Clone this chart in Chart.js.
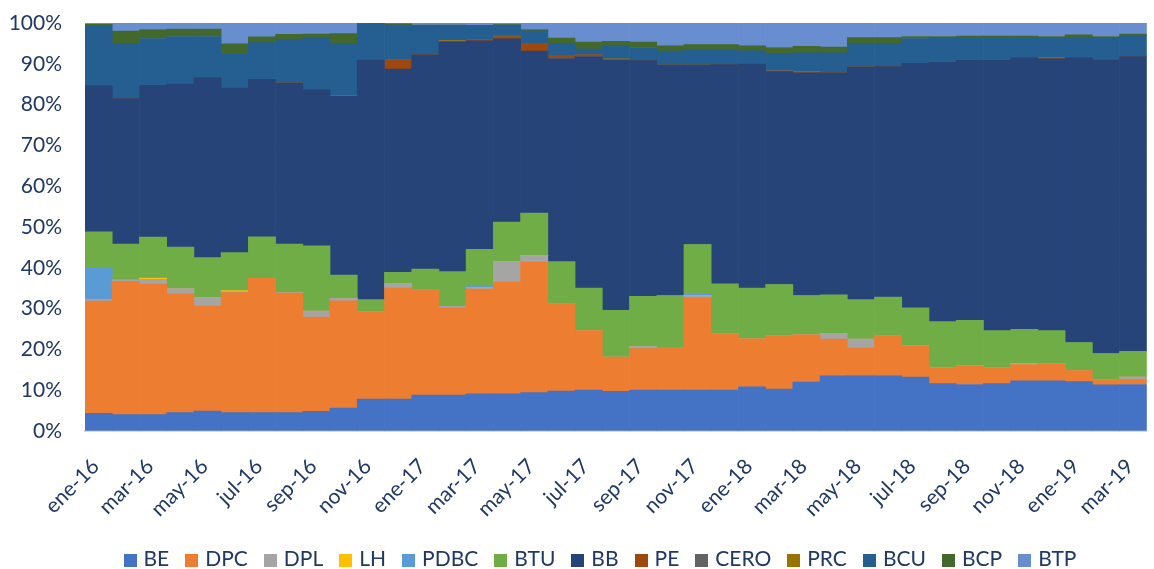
<!DOCTYPE html>
<html>
<head>
<meta charset="utf-8">
<script src="https://cdn.jsdelivr.net/npm/chart.js@4"></script>
<style>
  html, body { margin: 0; padding: 0; background: #fff; overflow: hidden; }
  #wrap { position: relative; width: 1154px; height: 569px; overflow: hidden; }
  #chart { position: absolute; left: 0; top: 0; }
  #legend {
    position: absolute; left: 0; top: 546px; width: 1200px;
    display: flex; justify-content: center; gap: 16px;
    font: 21px Lato, "Open Sans", sans-serif; line-height: 24px; color: #1F3864;
  }
  #legend span.sw { display: inline-block; width: 13px; height: 13px; margin-right: 7px; vertical-align: -1px; }
</style>
</head>
<body>
<div id="wrap">
  <canvas id="chart" width="1166" height="569"></canvas>
  <div id="legend"></div>
</div>
<script>
// meses (ene-16 .. mar-19)
const months = [
  "ene-16","feb-16","mar-16","abr-16","may-16","jun-16","jul-16","ago-16","sep-16","oct-16","nov-16","dic-16",
  "ene-17","feb-17","mar-17","abr-17","may-17","jun-17","jul-17","ago-17","sep-17","oct-17","nov-17","dic-17",
  "ene-18","feb-18","mar-18","abr-18","may-18","jun-18","jul-18","ago-18","sep-18","oct-18","nov-18","dic-18",
  "ene-19","feb-19","mar-19"
];

// participación (%) por instrumento
const BE   = [4.3,4.0,4.0,4.5,4.9,4.5,4.5,4.5,4.8,5.6,7.8,7.8,8.8,8.8,9.1,9.1,9.4,9.8,10.0,9.7,10.0,10.0,10.0,10.0,10.8,10.3,12.0,13.5,13.6,13.5,13.2,11.6,11.4,11.6,12.3,12.3,12.1,11.3,11.4];
const DPC  = [27.5,32.7,32.0,29.2,25.7,29.4,32.9,29.3,23.1,26.3,21.5,27.2,25.9,21.4,25.7,27.4,32.0,21.4,14.6,8.4,10.2,10.5,22.7,13.9,11.8,13.1,11.6,9.0,6.7,9.9,7.7,3.9,4.6,3.8,4.0,4.2,2.7,1.3,1.2];
const DPL  = [0.2,0.2,1.2,1.2,2.1,0.3,0,0.1,1.5,0.6,0,1.2,0,0.4,0.3,5.0,1.6,0,0,0,0.5,0,0.5,0,0,0,0,1.3,2.2,0,0,0,0,0,0.2,0,0,0,0.6];
const LH   = [0.1,0.1,0.3,0,0,0.2,0,0,0,0,0,0,0,0,0,0,0,0,0,0,0,0,0,0,0,0,0,0,0,0,0,0,0,0,0,0,0,0,0];
const PDBC = [7.7,0,0,0,0,0,0,0,0,0,0,0,0,0,0.4,0,0,0,0,0,0,0,0.3,0,0,0,0,0,0,0,0,0,0,0,0,0,0,0,0];
const BTU  = [8.9,8.8,10.0,10.2,9.8,9.3,10.2,11.9,16.0,5.7,2.9,2.7,5.0,8.5,9.0,9.7,10.4,10.3,10.4,11.5,12.3,12.7,12.2,12.2,12.4,12.5,9.6,9.6,9.7,9.4,9.3,11.3,11.1,9.2,8.4,8.1,6.9,6.4,6.3];
const BB   = [35.8,35.7,37.2,40.0,44.1,40.4,38.6,39.5,38.3,43.8,58.8,49.8,52.5,56.4,51.1,44.9,39.7,49.8,56.8,61.3,57.8,56.5,44.0,53.7,55.0,52.2,54.6,54.4,57.0,56.5,59.9,63.6,63.8,66.3,66.6,66.6,69.8,72.0,72.3];
const PE   = [0,0,0,0,0,0,0,0,0,0,0,2.3,0,0,0.3,0.5,1.9,0.6,0.4,0,0,0,0,0,0,0,0,0,0,0,0,0,0,0,0,0,0,0,0];
const CERO = [0,0,0,0,0,0,0,0,0,0.3,0,0,0,0,0,0,0,0,0,0,0,0,0,0,0,0.3,0,0,0,0,0,0,0,0,0,0,0,0,0];
const PRC  = [0,0,0,0,0,0,0,0,0,0,0,0,0,0.3,0,0.2,0,0,0,0.3,0,0,0,0,0,0,0.3,0,0,0,0,0,0,0,0,0.3,0,0,0];
const BCU  = [14.6,13.5,11.5,11.6,10.1,8.2,9.0,10.7,12.7,12.7,8.7,8.5,7.2,3.7,3.5,2.7,3.0,3.1,1.4,3.2,3.2,3.4,3.6,3.5,3.2,4.1,4.6,4.9,5.8,5.7,6.1,6.0,5.6,5.6,5.0,5.0,5.0,5.4,5.1];
const BCP  = [0.4,3.0,2.2,1.8,1.8,2.6,1.4,1.2,0.9,2.4,0.3,0.3,0.1,0.1,0,0.1,0.4,1.3,1.7,1.1,1.3,1.3,1.4,1.4,1.2,1.5,1.6,1.4,1.4,1.4,0.5,0.3,0.3,0.3,0.3,0.2,0.6,0.3,0.4];
const BTP  = [0.3,2.0,1.6,1.5,1.5,5.1,3.4,2.8,2.7,2.6,0,0.2,0.5,0.5,0.6,0.4,1.6,3.7,4.7,4.5,4.7,5.6,5.3,5.3,5.6,6.0,5.7,5.9,3.6,3.6,3.3,3.3,3.2,3.2,3.2,3.3,2.9,3.3,2.7];

const series = [
  ["BE", BE, "#4472C4"], ["DPC", DPC, "#ED7D31"], ["DPL", DPL, "#A5A5A5"], ["LH", LH, "#FFC000"],
  ["PDBC", PDBC, "#5B9BD5"], ["BTU", BTU, "#70AD47"], ["BB", BB, "#264478"], ["PE", PE, "#9E480E"],
  ["CERO", CERO, "#636363"], ["PRC", PRC, "#997300"], ["BCU", BCU, "#255E91"], ["BCP", BCP, "#43682B"],
  ["BTP", BTP, "#698ED0"]
];

// 100% apilado: normalizar cada mes
const totals = months.map((m, i) => series.reduce((s, d) => s + d[1][i], 0));

const textColor = "#1F3864";
const font = { family: "Lato, 'Open Sans', sans-serif", size: 21 };

new Chart(document.getElementById('chart'), {
  type: 'bar',
  data: {
    labels: months,
    datasets: series.map(([name, vals, color]) => ({
      label: name,
      data: vals.map((v, i) => v / totals[i] * 100),
      backgroundColor: color,
      borderWidth: 0,
      barPercentage: 1,
      categoryPercentage: 1
    }))
  },
  options: {
    responsive: false,
    animation: false,
    devicePixelRatio: 1,
    layout: { padding: { top: 23, bottom: 38, left: 0, right: 0 } },
    plugins: { legend: { display: false }, tooltip: { enabled: false } },
    scales: {
      x: {
        stacked: true,
        grid: { display: false },
        border: { display: true, color: '#D9D9D9', width: 2 },
        ticks: {
          autoSkip: false, minRotation: 45, maxRotation: 45, padding: 15, labelOffset: -3,
          color: textColor, font: font,
          callback: (v, i) => (i % 2 === 0 ? months[i] : '')
        },
        afterFit: s => { s.height = 100; }
      },
      y: {
        stacked: true, min: 0, max: 100,
        // separación etiqueta-eje con tickLength (la padding de ticks también empuja el área arriba)
        grid: { color: '#D9D9D9', drawTicks: true, tickLength: 23, tickColor: 'rgba(0,0,0,0)' },
        border: { display: false },
        ticks: { stepSize: 10, padding: 0, color: textColor, font: font, callback: v => v + '%' },
        afterFit: s => { s.width = 85; }
      }
    }
  }
});

// leyenda
const legend = document.getElementById('legend');
series.forEach(([name, , color]) => {
  const item = document.createElement('div');
  item.innerHTML = '<span class="sw" style="background:' + color + '"></span>' + name;
  legend.appendChild(item);
});
</script>
</body>
</html>
